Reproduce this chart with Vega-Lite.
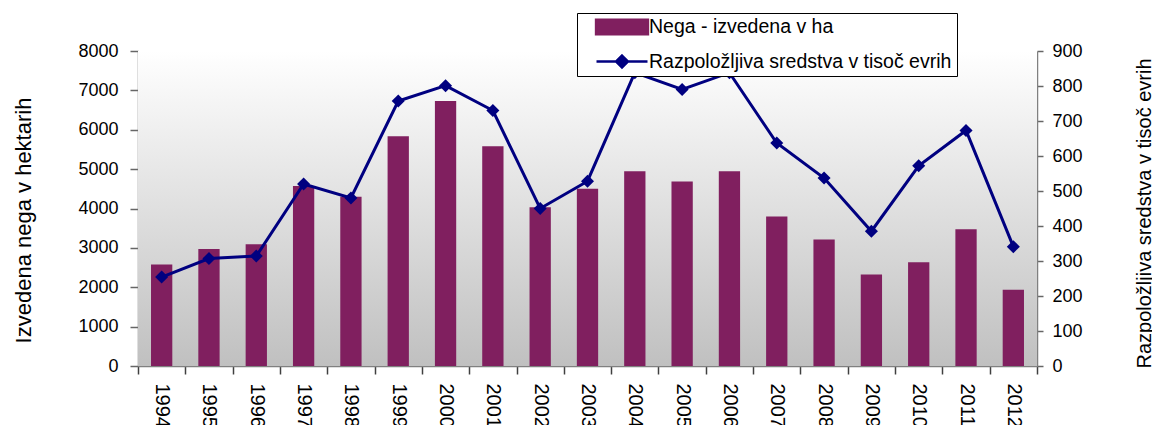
{
  "$schema": "https://vega.github.io/schema/vega-lite/v6.json",
  "width": 899,
  "height": 315,
  "autosize": {"type": "none"},
  "padding": {"left": 138, "top": 51, "right": 115, "bottom": 59},
  "background": "white",
  "config": {
    "font": "Liberation Sans",
    "view": {"stroke": null},
    "axis": {"grid": false, "labelColor": "black", "titleColor": "black", "titleFontWeight": "normal", "domainColor": "#808080", "domainWidth": 1.5}
  },
  "datasets": {
    "main": [
      {"year": "1994", "nega": 2580, "sredstva": 254},
      {"year": "1995", "nega": 2970, "sredstva": 307},
      {"year": "1996", "nega": 3090, "sredstva": 314},
      {"year": "1997", "nega": 4570, "sredstva": 520},
      {"year": "1998", "nega": 4300, "sredstva": 480},
      {"year": "1999", "nega": 5835, "sredstva": 757},
      {"year": "2000", "nega": 6730, "sredstva": 801},
      {"year": "2001", "nega": 5580, "sredstva": 730},
      {"year": "2002", "nega": 4030, "sredstva": 450},
      {"year": "2003", "nega": 4500, "sredstva": 528},
      {"year": "2004", "nega": 4945, "sredstva": 838},
      {"year": "2005", "nega": 4685, "sredstva": 790},
      {"year": "2006", "nega": 4945, "sredstva": 838},
      {"year": "2007", "nega": 3795, "sredstva": 637},
      {"year": "2008", "nega": 3215, "sredstva": 537},
      {"year": "2009", "nega": 2325, "sredstva": 385},
      {"year": "2010", "nega": 2635, "sredstva": 572},
      {"year": "2011", "nega": 3475, "sredstva": 673},
      {"year": "2012", "nega": 1935, "sredstva": 341}
    ],
    "legend": [
      {"series": "Nega - izvedena v ha"},
      {"series": "Razpoložljiva sredstva v tisoč evrih"}
    ],
    "panel": [
      {"panel": "plot"}
    ]
  },
  "layer": [
    {
      "data": {"name": "panel"},
      "mark": {"type": "rect", "color": {"gradient": "linear", "x1": 0, "y1": 0, "x2": 0, "y2": 1, "stops": [{"offset": 0, "color": "#ffffff"}, {"offset": 1, "color": "#c0c0c0"}]}},
      "encoding": {}
    },
    {
      "data": {"name": "main"},
      "mark": {"type": "bar", "width": {"band": 0.45}, "color": "#801F5F"},
      "encoding": {
        "x": {
          "field": "year", "type": "ordinal",
          "scale": {"paddingInner": 0, "paddingOuter": 0},
          "axis": {"title": null, "labelAngle": 90, "labelAlign": "left", "labelBaseline": "middle", "labelFontSize": 20, "labelPadding": 9, "tickSize": 8, "tickBand": "extent", "tickColor": "#404040", "tickWidth": 1.5}
        },
        "y": {
          "field": "nega", "type": "quantitative",
          "scale": {"domain": [0, 8000], "nice": false},
          "axis": {"title": "Izvedena nega v hektarih", "titleFontSize": 22, "titleAngle": -90, "titleX": -108, "titleY": 169, "titleAlign": "center", "titleBaseline": "alphabetic", "values": [0, 1000, 2000, 3000, 4000, 5000, 6000, 7000, 8000], "format": "d", "labelFontSize": 18, "labelPadding": 12, "tickSize": 8, "tickColor": "#666666", "tickWidth": 1.5, "labelFlush": false, "labelOverlap": false}
        }
      }
    },
    {
      "data": {"name": "main"},
      "encoding": {
        "x": {"field": "year", "type": "ordinal"},
        "y": {
          "field": "sredstva", "type": "quantitative",
          "scale": {"domain": [0, 900], "nice": false},
          "axis": {"orient": "right", "title": "Razpoložljiva sredstva v tisoč evrih", "titleFontSize": 20, "titleAngle": -90, "titleX": 113, "titleY": 162, "titleAlign": "center", "titleBaseline": "alphabetic", "values": [0, 100, 200, 300, 400, 500, 600, 700, 800, 900], "format": "d", "labelFontSize": 18, "labelPadding": 9, "tickSize": 6, "tickColor": "#666666", "tickWidth": 1.5, "labelFlush": false, "labelOverlap": false}
        }
      },
      "layer": [
        {"mark": {"type": "line", "color": "#000080", "strokeWidth": 3}},
        {"mark": {"type": "point", "shape": "diamond", "filled": true, "size": 170, "color": "#000080", "opacity": 1}}
      ]
    },
    {
      "data": {"name": "legend"},
      "mark": {"type": "point", "filled": true, "opacity": 0},
      "encoding": {
        "color": {
          "field": "series", "type": "nominal",
          "scale": {"domain": ["Nega - izvedena v ha", "Razpoložljiva sredstva v tisoč evrih"], "range": ["#801F5F", "#000080"]},
          "legend": {"title": null, "orient": "none", "legendX": 439, "legendY": -38, "direction": "vertical", "strokeColor": "black", "fillColor": "white", "padding": 5, "symbolSize": 289, "symbolOffset": 30, "labelOffset": 17, "labelFontSize": 19.5, "labelColor": "black", "rowPadding": 14.5, "clipHeight": 18, "labelLimit": 0, "symbolOpacity": 1,
            "encode": {"symbols": {"update": {"stroke": {"scale": "color", "field": "value"}, "strokeWidth": {"value": 2.5}, "opacity": {"value": 1}}}}}
        },
        "shape": {
          "field": "series", "type": "nominal",
          "scale": {"domain": ["Nega - izvedena v ha", "Razpoložljiva sredstva v tisoč evrih"], "range": ["M-3.05,-0.85H3.05V0.85H-3.05Z", "M-3,0H3M0,-0.7L0.7,0L0,0.7L-0.7,0Z"]},
          "legend": {"title": null, "orient": "none", "legendX": 439, "legendY": -38, "direction": "vertical", "strokeColor": "black", "fillColor": "white", "padding": 5, "symbolSize": 289, "symbolOffset": 30, "labelOffset": 17, "labelFontSize": 19.5, "labelColor": "black", "rowPadding": 14.5, "clipHeight": 18, "labelLimit": 0, "symbolOpacity": 1,
            "encode": {"symbols": {"update": {"stroke": {"scale": "color", "field": "value"}, "strokeWidth": {"value": 2.5}, "opacity": {"value": 1}}}}}
        }
      }
    }
  ],
  "resolve": {"scale": {"y": "independent"}}
}
